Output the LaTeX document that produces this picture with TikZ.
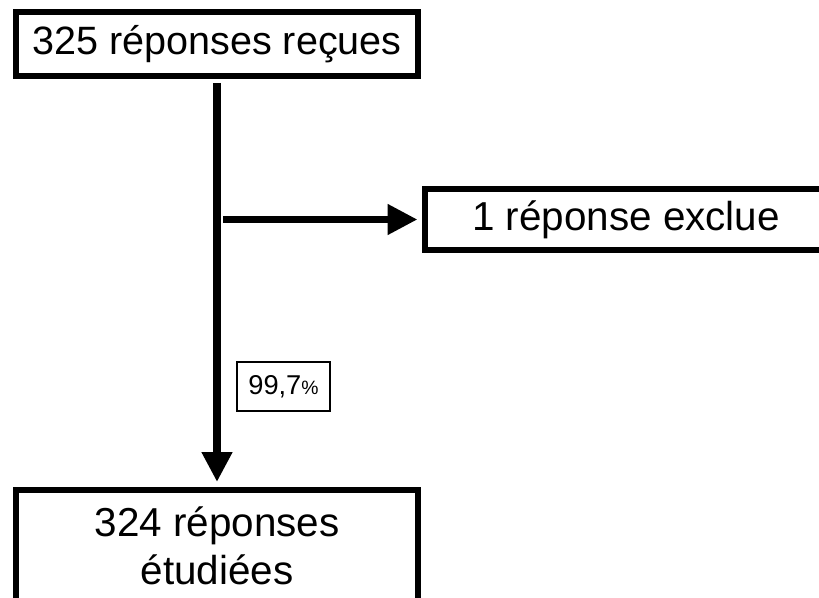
\documentclass[tikz,border=0pt]{standalone}
\usepackage{fontspec}
\setmainfont{Liberation Sans}
\usetikzlibrary{arrows.meta,positioning,calc}
\tikzset{
  bigbox/.style={rectangle, draw=black, line width=1.2mm,
    font=\fontsize{23}{27.5}\selectfont, align=center,
    minimum width=8.06cm, minimum height=1.28cm, inner sep=0pt},
  pctbox/.style={rectangle, draw=black, line width=0.4mm,
    font=\fontsize{15.5}{18}\selectfont,
    minimum width=1.86cm, minimum height=0.98cm, inner sep=0pt},
  arrflow/.style={-{Triangle[length=6mm, width=5.8mm]}, line width=1.5mm, black},
}

\begin{document}
\begin{tikzpicture}[x=0.02cm, y=-0.02cm]
\useasboundingbox (0,0) rectangle (819,598);

% ---------------- BOXES ----------------
\node[bigbox, font=\fontsize{22.5}{27}\selectfont] (n-recues) at (217,44) {325 réponses reçues};
\node[bigbox, minimum height=1.22cm] (n-exclue) at (626,219.5) {1 réponse exclue};
\node[bigbox, minimum height=2.24cm] (n-etudiees) at (217,546)
  {324 réponses\\étudiées};

% ---------------- ARROWS ----------------
\coordinate (n-branch) at (n-recues.south |- n-exclue.west);
\draw[arrflow, shorten <=0.8mm, shorten >=1mm] (n-recues) -- (n-etudiees)
  node[pctbox, pos=0.754, right=3.8mm] {99,7{\fontsize{11}{13}\selectfont\%}};
\draw[arrflow, shorten <=1.2mm, shorten >=0.8mm] (n-branch) -- (n-exclue);

\end{tikzpicture}
\end{document}
